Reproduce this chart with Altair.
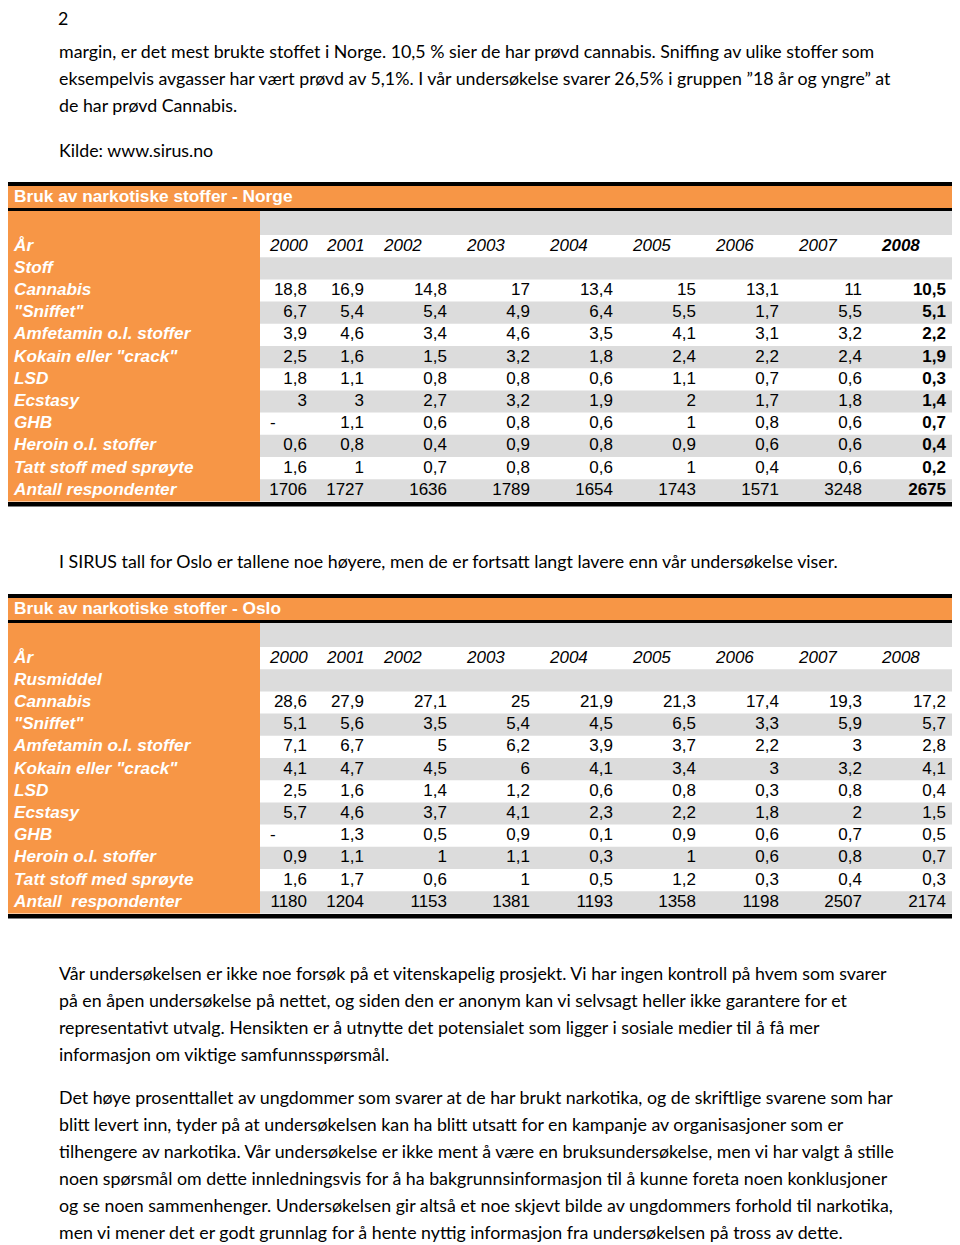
import altair as alt
import pandas as pd

# ---------------- data ----------------
years = ["2000", "2001", "2002", "2003", "2004", "2005", "2006", "2007", "2008"]

norge_title = "Bruk av narkotiske stoffer - Norge"
norge_labels = ["År", "Stoff", "Cannabis", "\"Sniffet\"", "Amfetamin o.l. stoffer",
                "Kokain eller \"crack\"", "LSD", "Ecstasy", "GHB", "Heroin o.l. stoffer",
                "Tatt stoff med sprøyte", "Antall respondenter"]
norge_cannabis = [18.8, 16.9, 14.8, 17, 13.4, 15, 13.1, 11, 10.5]
norge_sniffet = [6.7, 5.4, 5.4, 4.9, 6.4, 5.5, 1.7, 5.5, 5.1]
norge_amfetamin = [3.9, 4.6, 3.4, 4.6, 3.5, 4.1, 3.1, 3.2, 2.2]
norge_kokain = [2.5, 1.6, 1.5, 3.2, 1.8, 2.4, 2.2, 2.4, 1.9]
norge_lsd = [1.8, 1.1, 0.8, 0.8, 0.6, 1.1, 0.7, 0.6, 0.3]
norge_ecstasy = [3, 3, 2.7, 3.2, 1.9, 2, 1.7, 1.8, 1.4]
norge_ghb = [None, 1.1, 0.6, 0.8, 0.6, 1, 0.8, 0.6, 0.7]
norge_heroin = [0.6, 0.8, 0.4, 0.9, 0.8, 0.9, 0.6, 0.6, 0.4]
norge_sproyte = [1.6, 1, 0.7, 0.8, 0.6, 1, 0.4, 0.6, 0.2]
norge_antall = [1706, 1727, 1636, 1789, 1654, 1743, 1571, 3248, 2675]

oslo_title = "Bruk av narkotiske stoffer - Oslo"
oslo_labels = ["År", "Rusmiddel", "Cannabis", "\"Sniffet\"", "Amfetamin o.l. stoffer",
               "Kokain eller \"crack\"", "LSD", "Ecstasy", "GHB", "Heroin o.l. stoffer",
               "Tatt stoff med sprøyte", "Antall\u00a0 respondenter"]
oslo_cannabis = [28.6, 27.9, 27.1, 25, 21.9, 21.3, 17.4, 19.3, 17.2]
oslo_sniffet = [5.1, 5.6, 3.5, 5.4, 4.5, 6.5, 3.3, 5.9, 5.7]
oslo_amfetamin = [7.1, 6.7, 5, 6.2, 3.9, 3.7, 2.2, 3, 2.8]
oslo_kokain = [4.1, 4.7, 4.5, 6, 4.1, 3.4, 3, 3.2, 4.1]
oslo_lsd = [2.5, 1.6, 1.4, 1.2, 0.6, 0.8, 0.3, 0.8, 0.4]
oslo_ecstasy = [5.7, 4.6, 3.7, 4.1, 2.3, 2.2, 1.8, 2, 1.5]
oslo_ghb = [None, 1.3, 0.5, 0.9, 0.1, 0.9, 0.6, 0.7, 0.5]
oslo_heroin = [0.9, 1.1, 1, 1.1, 0.3, 1, 0.6, 0.8, 0.7]
oslo_sproyte = [1.6, 1.7, 0.6, 1, 0.5, 1.2, 0.3, 0.4, 0.3]
oslo_antall = [1180, 1204, 1153, 1381, 1193, 1358, 1198, 2507, 2174]

page_number = "2"
intro_lines = [
    "margin, er det mest brukte stoffet i Norge. 10,5 % sier de har prøvd cannabis. Sniffing av ulike stoffer som",
    "eksempelvis avgasser har vært prøvd av 5,1%. I vår undersøkelse svarer 26,5% i gruppen ”18 år og yngre” at",
    "de har prøvd Cannabis.",
]
source_line = "Kilde: www.sirus.no"
middle_line = "I SIRUS tall for Oslo er tallene noe høyere, men de er fortsatt langt lavere enn vår undersøkelse viser."
para1_lines = [
    "Vår undersøkelsen er ikke noe forsøk på et vitenskapelig prosjekt. Vi har ingen kontroll på hvem som svarer",
    "på en åpen undersøkelse på nettet, og siden den er anonym kan vi selvsagt heller ikke garantere for et",
    "representativt utvalg. Hensikten er å utnytte det potensialet som ligger i sosiale medier til å få mer",
    "informasjon om viktige samfunnsspørsmål.",
]
para2_lines = [
    "Det høye prosenttallet av ungdommer som svarer at de har brukt narkotika, og de skriftlige svarene som har",
    "blitt levert inn, tyder på at undersøkelsen kan ha blitt utsatt for en kampanje av organisasjoner som er",
    "tilhengere av narkotika. Vår undersøkelse er ikke ment å være en bruksundersøkelse, men vi har valgt å stille",
    "noen spørsmål om dette innledningsvis for å ha bakgrunnsinformasjon til å kunne foreta noen konklusjoner",
    "og se noen sammenhenger. Undersøkelsen gir altså et noe skjevt bilde av ungdommers forhold til narkotika,",
    "men vi mener det er godt grunnlag for å hente nyttig informasjon fra undersøkelsen på tross av dette.",
]

norge_values = [norge_cannabis, norge_sniffet, norge_amfetamin, norge_kokain, norge_lsd,
                norge_ecstasy, norge_ghb, norge_heroin, norge_sproyte, norge_antall]
oslo_values = [oslo_cannabis, oslo_sniffet, oslo_amfetamin, oslo_kokain, oslo_lsd,
               oslo_ecstasy, oslo_ghb, oslo_heroin, oslo_sproyte, oslo_antall]

# ---------------- layout ----------------
ORANGE = "#F79646"
GREY = "#DCDCDC"
BLACK = "#000000"
LEFT, RIGHT, SPLIT = 4, 956, 260
ROW_H = 22.2
col_right = [307, 364, 447, 530, 613, 696, 779, 862, 946]
col_left = [270, 327, 384, 467, 550, 633, 716, 799, 882]


def fmt(v):
    if v is None:
        return "-"
    if float(v).is_integer():
        return str(int(v))
    return str(v).replace(".", ",")


rects = []
texts = []


def add_table(top, title, labels, values, bold_last):
    rects.append(dict(x=LEFT, x2=RIGHT, y=top, y2=top + 4, c=BLACK))
    rects.append(dict(x=LEFT, x2=RIGHT, y=top + 4, y2=top + 26, c=ORANGE))
    rects.append(dict(x=LEFT, x2=RIGHT, y=top + 26, y2=top + 29, c=BLACK))
    first = top + 53
    bottom = first + len(labels) * ROW_H
    rects.append(dict(x=LEFT, x2=SPLIT, y=top + 29, y2=bottom, c=ORANGE))
    rects.append(dict(x=SPLIT, x2=RIGHT, y=top + 29, y2=first, c=GREY))
    for i in range(len(labels)):
        y0 = first + i * ROW_H
        if i % 2 == 1:
            rects.append(dict(x=SPLIT, x2=RIGHT, y=y0, y2=y0 + ROW_H, c=GREY))
    rects.append(dict(x=LEFT, x2=RIGHT, y=bottom + 0.6, y2=bottom + 5, c=BLACK))

    texts.append(dict(x=14, y=top + 15, text=title, kind="title"))
    for i, lab in enumerate(labels):
        yc = first + i * ROW_H + ROW_H / 2 - 0.5
        texts.append(dict(x=14, y=yc, text=lab, kind="label"))
    yc = first + ROW_H / 2 - 0.5
    for j, yr in enumerate(years):
        kind = "year_bold" if (bold_last and j == len(years) - 1) else "year"
        texts.append(dict(x=col_left[j], y=yc, text=yr, kind=kind))
    for i, row in enumerate(values):
        yc = first + (i + 2) * ROW_H + ROW_H / 2 - 0.5
        for j, v in enumerate(row):
            if v is None:
                texts.append(dict(x=col_left[j], y=yc, text="-", kind="dash"))
            else:
                kind = "val_bold" if (bold_last and j == len(row) - 1) else "val"
                texts.append(dict(x=col_right[j], y=yc, text=fmt(v), kind=kind))


add_table(182, norge_title, norge_labels, norge_values, True)
add_table(594, oslo_title, oslo_labels, oslo_values, False)

texts.append(dict(x=58, y=20, text=page_number, kind="body"))
for i, line in enumerate(intro_lines):
    texts.append(dict(x=59, y=53 + i * 27, text=line, kind="body"))
texts.append(dict(x=59, y=152, text=source_line, kind="body"))
texts.append(dict(x=59, y=563, text=middle_line, kind="body"))
for i, line in enumerate(para1_lines):
    texts.append(dict(x=59, y=975 + i * 26.9, text=line, kind="body"))
for i, line in enumerate(para2_lines):
    texts.append(dict(x=59, y=1099 + i * 27, text=line, kind="body"))

df_r = pd.DataFrame(rects)
df_t = pd.DataFrame(texts)

# chart area covers page pixels 8..952 x 8..1245 (page has an 8px margin)
W, H = 944, 1237
xs = alt.Scale(domain=[8, 8 + W], nice=False, zero=False)
ys = alt.Scale(domain=[8, 8 + H], reverse=True, nice=False, zero=False)

rect_layer = alt.Chart(df_r).mark_rect().encode(
    x=alt.X("x:Q", scale=xs, axis=None),
    x2="x2:Q",
    y=alt.Y("y:Q", scale=ys, axis=None),
    y2="y2:Q",
    color=alt.Color("c:N", scale=None),
)


def text_layer(kind, **kw):
    return alt.Chart(df_t).transform_filter(alt.datum.kind == kind).mark_text(
        baseline="middle", **kw
    ).encode(
        x=alt.X("x:Q", scale=xs, axis=None),
        y=alt.Y("y:Q", scale=ys, axis=None),
        text="text:N",
    )


TF = "Liberation Sans"
layers = [
    rect_layer,
    text_layer("body", align="left", font="Lato", fontSize=17.8, color="#000000"),
    text_layer("title", align="left", font=TF, fontSize=17.3, fontWeight="bold", color="#FFFFFF"),
    text_layer("label", align="left", font=TF, fontSize=17.2, fontWeight="bold", fontStyle="italic", color="#FFFFFF"),
    text_layer("year", align="left", font=TF, fontSize=17, fontStyle="italic", color="#000000"),
    text_layer("year_bold", align="left", font=TF, fontSize=17, fontStyle="italic", fontWeight="bold", color="#000000"),
    text_layer("val", align="right", font=TF, fontSize=17, color="#000000"),
    text_layer("val_bold", align="right", font=TF, fontSize=17, fontWeight="bold", color="#000000"),
    text_layer("dash", align="left", font=TF, fontSize=17, color="#000000"),
]

chart = alt.layer(*layers).properties(
    width=W, height=H, autosize="none", padding=0, background="#FFFFFF"
).configure_view(stroke=None)

chart.save("out.html", embed_options={"renderer": "svg", "actions": False})
